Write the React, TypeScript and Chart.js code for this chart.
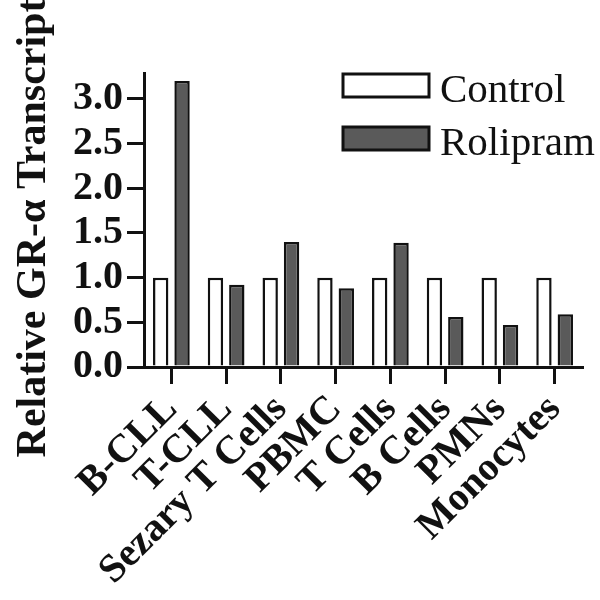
import React, { useEffect, useRef } from "react";
import { Chart, registerables } from "chart.js";

Chart.register(...registerables);

const categories = ["B-CLL", "T-CLL", "Sezary T Cells", "PBMC", "T Cells", "B Cells", "PMNs", "Monocytes"];
const controlValues = [1.0, 1.0, 1.0, 1.0, 1.0, 1.0, 1.0, 1.0];
const rolipramValues = [3.2, 0.92, 1.4, 0.88, 1.39, 0.56, 0.47, 0.59];
const seriesLabels = ["Control", "Rolipram"];
const yTitle = "Relative GR-\u03b1 Transcript";
const yTicks = [0.0, 0.5, 1.0, 1.5, 2.0, 2.5, 3.0];
const yMin = 0;
const yMax = 3.29;

const SERIF = "'Liberation Serif', 'Times New Roman', serif";

const boxLegend = {
  id: "boxLegend",
  afterDraw(chart: any) {
    const ctx = chart.ctx;
    ctx.save();
    chart.data.datasets.forEach((ds: any, i: number) => {
      const x = 343;
      const y = 74 + i * 53;
      const w = 86;
      const h = 23;
      ctx.fillStyle = ds.backgroundColor;
      ctx.fillRect(x, y, w, h);
      ctx.lineWidth = 3;
      ctx.strokeStyle = "#111";
      ctx.strokeRect(x, y, w, h);
      ctx.font = `41px ${SERIF}`;
      ctx.fillStyle = "#111";
      ctx.textAlign = "left";
      ctx.textBaseline = "alphabetic";
      ctx.fillText(ds.label, 440, y + h + 5);
    });
    ctx.restore();
  },
};

const yTitlePlugin = {
  id: "yTitlePlugin",
  afterDraw(chart: any) {
    const ctx = chart.ctx;
    ctx.save();
    ctx.translate(45, 228);
    ctx.rotate(-Math.PI / 2);
    ctx.font = `bold 42px ${SERIF}`;
    ctx.fillStyle = "#111";
    ctx.textAlign = "center";
    ctx.textBaseline = "alphabetic";
    ctx.fillText(yTitle, 0, 0);
    ctx.restore();
  },
};

export default function App() {
  const ref = useRef<HTMLCanvasElement | null>(null);

  useEffect(() => {
    if (!ref.current) return;
    const chart = new Chart(ref.current, {
      type: "bar",
      data: {
        labels: categories,
        datasets: [
          {
            label: seriesLabels[0],
            data: controlValues,
            backgroundColor: "#ffffff",
            borderColor: "#111111",
            borderWidth: 2.5,
            categoryPercentage: 0.78,
            barPercentage: 0.72,
          },
          {
            label: seriesLabels[1],
            data: rolipramValues,
            backgroundColor: "#5a5a5a",
            borderColor: "#111111",
            borderWidth: 2.5,
            categoryPercentage: 0.78,
            barPercentage: 0.72,
          },
        ],
      },
      options: {
        animation: false,
        responsive: false,
        layout: { padding: { left: 0, top: 73, right: 18, bottom: 0 } },
        plugins: {
          legend: { display: false },
          tooltip: { enabled: false },
        },
        scales: {
          x: {
            grid: {
              display: true,
              drawOnChartArea: false,
              offset: false,
              drawTicks: true,
              tickLength: 17,
              lineWidth: 3,
              color: "#111",
            },
            border: { display: true, color: "#111", width: 3 },
            ticks: {
              autoSkip: false,
              maxRotation: 45,
              minRotation: 45,
              padding: 2,
              color: "#111",
              font: { family: SERIF, size: 40, weight: "bold" },
            },
            afterFit(scale: any) {
              scale.height = 233;
            },
          },
          y: {
            min: yMin,
            max: yMax,
            grid: {
              display: true,
              drawOnChartArea: false,
              drawTicks: true,
              tickLength: 17,
              lineWidth: 3,
              color: "#111",
            },
            border: { display: true, color: "#111", width: 3 },
            ticks: {
              autoSkip: false,
              padding: 4,
              color: "#111",
              font: { family: SERIF, size: 40, weight: "bold" },
              callback: (v: any) => Number(v).toFixed(1),
            },
            afterBuildTicks(scale: any) {
              scale.ticks = yTicks.map((v) => ({ value: v }));
            },
            afterFit(scale: any) {
              scale.width = 144;
            },
          },
        },
      },
      plugins: [boxLegend, yTitlePlugin],
    } as any);
    return () => chart.destroy();
  }, []);

  return (
    <div style={{ position: "fixed", left: 0, top: 0, width: 600, height: 600, background: "#fff" }}>
      <canvas ref={ref} width={600} height={600} />
    </div>
  );
}
